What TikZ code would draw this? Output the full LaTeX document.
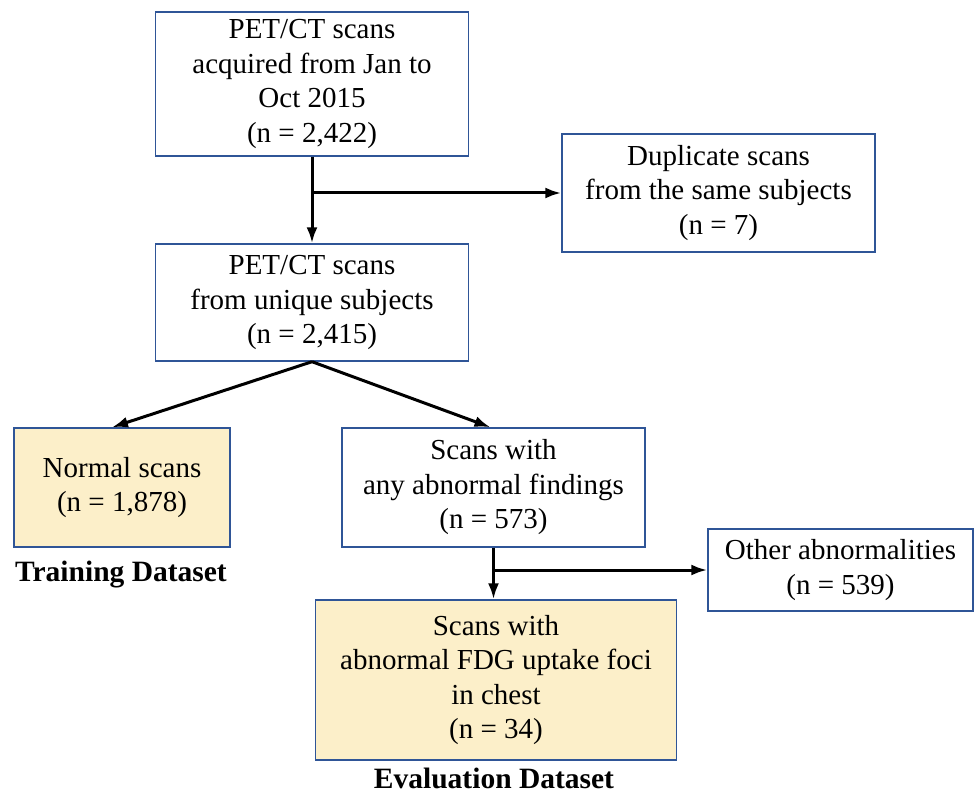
\documentclass[tikz,border=0pt]{standalone}
\usepackage{fontspec}
\setmainfont{Liberation Serif}
\usetikzlibrary{arrows.meta}
\definecolor{bordc}{HTML}{2F5597}
\definecolor{fillc}{HTML}{FCEFC9}
\begin{document}
\begin{tikzpicture}[x=1pt,y=-1pt,
  box/.style={draw=bordc,line width=1.4pt,align=center,inner sep=0pt,
    font=\fontsize{29}{34.5}\selectfont},
  hl/.style={box,fill=fillc},
  lab/.style={font=\fontsize{29.5}{34}\selectfont\bfseries},
  conn/.style={line width=3pt,-{Latex[length=16pt,width=11pt]}}]
\useasboundingbox (0,0) rectangle (974,794);
\node[box,minimum width=313pt,minimum height=144pt] (b1) at (312,84) {PET/CT scans\\acquired from Jan to\\Oct 2015\\(n = 2,422)};
\node[box,minimum width=313pt,minimum height=118pt] (b2) at (718.5,193) {Duplicate scans\\from the same subjects\\(n = 7)};
\node[box,minimum width=313pt,minimum height=117pt] (b3) at (312,302.5) {PET/CT scans\\from unique subjects\\(n = 2,415)};
\node[hl,minimum width=216pt,minimum height=119pt] (b4) at (122,487.5) {Normal scans\\(n = 1,878)};
\node[box,minimum width=303pt,minimum height=119pt] (b5) at (493.5,487.5) {Scans with\\any abnormal findings\\(n = 573)};
\node[box,minimum width=265pt,minimum height=82pt] (b6) at (840.5,570) {Other abnormalities\\(n = 539)};
\node[hl,minimum width=361pt,minimum height=160pt] (b7) at (496,680) {Scans with\\abnormal FDG uptake foci\\in chest\\(n = 34)};
\node[lab] (t1) at (121,575) {Training Dataset};
\node[lab] (t2) at (494,778) {Evaluation Dataset};
\coordinate (j1) at (312,193);
\coordinate (j2) at (494,570);
\draw[conn] (b1.south) -- (b3.north);
\draw[conn] (j1) -- (b2.west);
\draw[conn] (b3.south) -- ([xshift=-10pt]b4.north);
\draw[conn] (b3.south) -- ([xshift=-3pt]b5.north);
\draw[conn] (b5.south) -- (b5.south |- b7.north);
\draw[conn] (j2) -- (b6.west);
\end{tikzpicture}
\end{document}
